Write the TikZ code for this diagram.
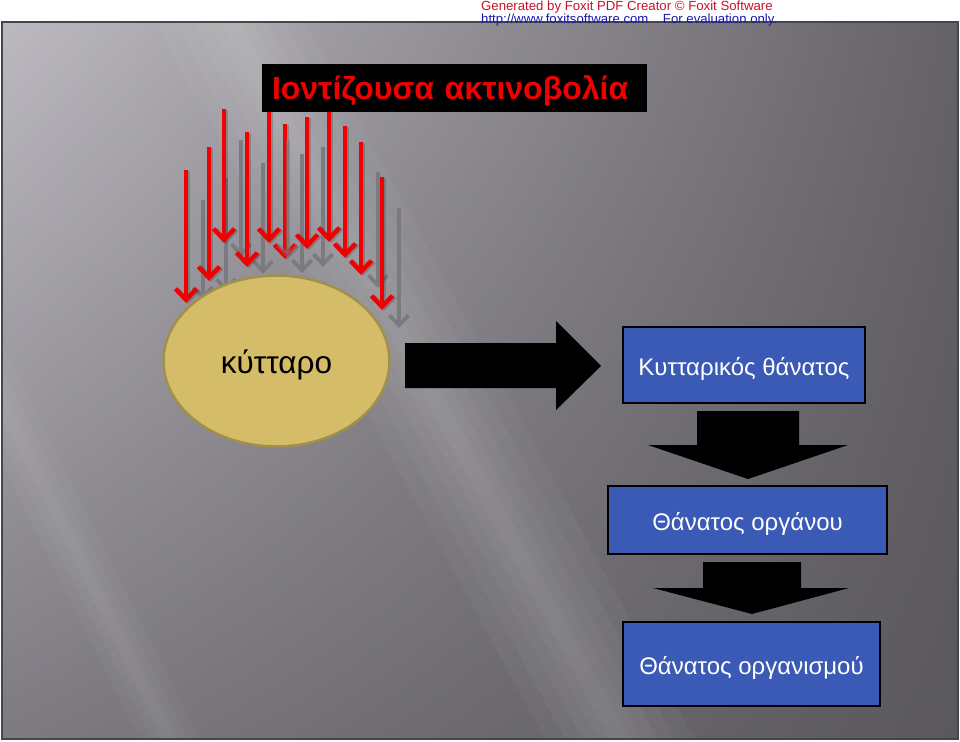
\documentclass[tikz,border=0pt]{standalone}
\usepackage{fontspec}
\setmainfont{Liberation Sans}
\usetikzlibrary{arrows.meta,shapes.geometric,shadings}
\definecolor{bgUL}{RGB}{188,186,192}
\definecolor{bgUR}{RGB}{100,98,103}
\definecolor{bgLL}{RGB}{125,123,129}
\definecolor{bgLR}{RGB}{90,88,93}
\definecolor{rayred}{RGB}{240,0,0}
\definecolor{raygray}{RGB}{122,120,127}
\definecolor{cellfill}{RGB}{212,188,104}
\definecolor{celldraw}{RGB}{160,144,76}
\definecolor{boxblue}{RGB}{58,90,182}
\definecolor{titlered}{RGB}{240,0,0}
\definecolor{wmred}{RGB}{204,16,40}
\definecolor{wmblue}{RGB}{26,26,168}
\tikzset{
  redray/.style={draw=rayred, line width=4pt, -{Straight Barb[length=11pt,width=21pt,line width=4.5pt]}},
  grayray/.style={draw=raygray, line width=3.2pt, opacity=0.9, -{Straight Barb[length=10pt,width=19pt,line width=3.8pt]}},
  rayshadow/.style={draw=black, opacity=0.18, line width=4pt, -{Straight Barb[length=11pt,width=21pt,line width=4.5pt]}},
  stepbox/.style={draw=black, line width=2pt, fill=boxblue, text=white, inner sep=0pt,
    font=\fontsize{24}{28}\selectfont, text height=20pt, text depth=0pt},
  blockarrow/.style={fill=black},
  band/.style={fill=white, opacity=0.035}
}
\begin{document}
\begin{tikzpicture}[x=1pt,y=-1pt]
\useasboundingbox (0,0) rectangle (960,741);
\fill[white] (0,0) rectangle (960,741);
% slide background
\shade[upper left=bgUL, upper right=bgUR, lower left=bgLL, lower right=bgLR] (2,22) rectangle (958,739);
\begin{scope}
\clip (2,22) rectangle (958,739);
\foreach \w in {150,110,75,45,20}{
  \fill[band] (230-\w/2,22) -- (230+\w/2,22) -- (620+\w/2,739) -- (620-\w/2,739) -- cycle;
}
\foreach \w in {60,35,15}{
  \fill[band] (-190-\w/2,22) -- (-190+\w/2,22) -- (170+\w/2,739) -- (170-\w/2,739) -- cycle;
}
\end{scope}
\draw[draw={rgb,255:red,70;green,70;blue,72}, line width=1.5pt] (2,22) rectangle (958,739);

% gray rays (behind)
\foreach \x/\a/\b in {203/200/300, 226/178/292, 241/140/257, 263/163/274, 302/154/273, 323/147/267, 378/172/288, 399/208/328}{
  \draw[grayray] (\x,\a) -- (\x,\b);
}
% red rays
\foreach \x/\a/\b in {186/170/303, 209/147/281, 224/109/243, 247/132/267, 269/100/243, 285/124/259, 307/117/249, 329/100/242, 345/126/258, 361/142/275, 382/177/310}{
  \draw[rayshadow] (\x+2,\a+1) -- (\x+2,\b+1);
  \draw[redray] (\x,\a) -- (\x,\b);
}
\draw[grayray, opacity=0.55] (288,140) -- (288,258);

% title
\node[fill=black, inner xsep=10pt, inner ysep=0pt, text width=365pt, align=left,
  minimum height=48pt, text height=24pt, text depth=0pt, text=titlered,
  font=\bfseries\fontsize{32}{36}\selectfont] (title) at (454.5,88) {Ιοντίζουσα ακτινοβολία};

% cell
\node[ellipse, draw=celldraw, line width=2.5pt, fill=cellfill, minimum width=226pt, minimum height=171pt,
  inner sep=0pt, text=black, font=\fontsize{31.5}{34}\selectfont, text height=24pt, text depth=0pt]
  (cell) at (276.5,361) {κύτταρο};

% boxes
\node[stepbox, minimum width=242pt, minimum height=76pt] (b1) at (744,365) {Κυτταρικός θάνατος};
\node[stepbox, minimum width=279pt, minimum height=68pt] (b2) at (747.5,520) {Θάνατος οργάνου};
\node[stepbox, minimum width=257pt, minimum height=84pt] (b3) at (751.5,664) {Θάνατος οργανισμού};

% block arrows
\fill[blockarrow] (405,343) -- (556,343) -- (556,321) -- (601,366) -- (556,410) -- (556,388) -- (405,388) -- cycle;
\fill[blockarrow] (697,411) -- (799,411) -- (799,445) -- (848,445) -- (748,479) -- (648,445) -- (697,445) -- cycle;
\fill[blockarrow] (703,562) -- (801,562) -- (801,588) -- (849,588) -- (752,614) -- (653,588) -- (703,588) -- cycle;

% watermark
\node[anchor=base west, inner sep=0pt, text=wmred, font=\fontsize{13.2}{15}\selectfont] (wm1) at (481,11)
  {Generated by Foxit PDF Creator © Foxit Software};
\node[anchor=base west, inner sep=0pt, text=wmblue, font=\fontsize{13.2}{15}\selectfont] (wm2) at (481,23.5)
  {http://www.foxitsoftware.com\hspace{1.1em}For evaluation only.};
\end{tikzpicture}
\end{document}
